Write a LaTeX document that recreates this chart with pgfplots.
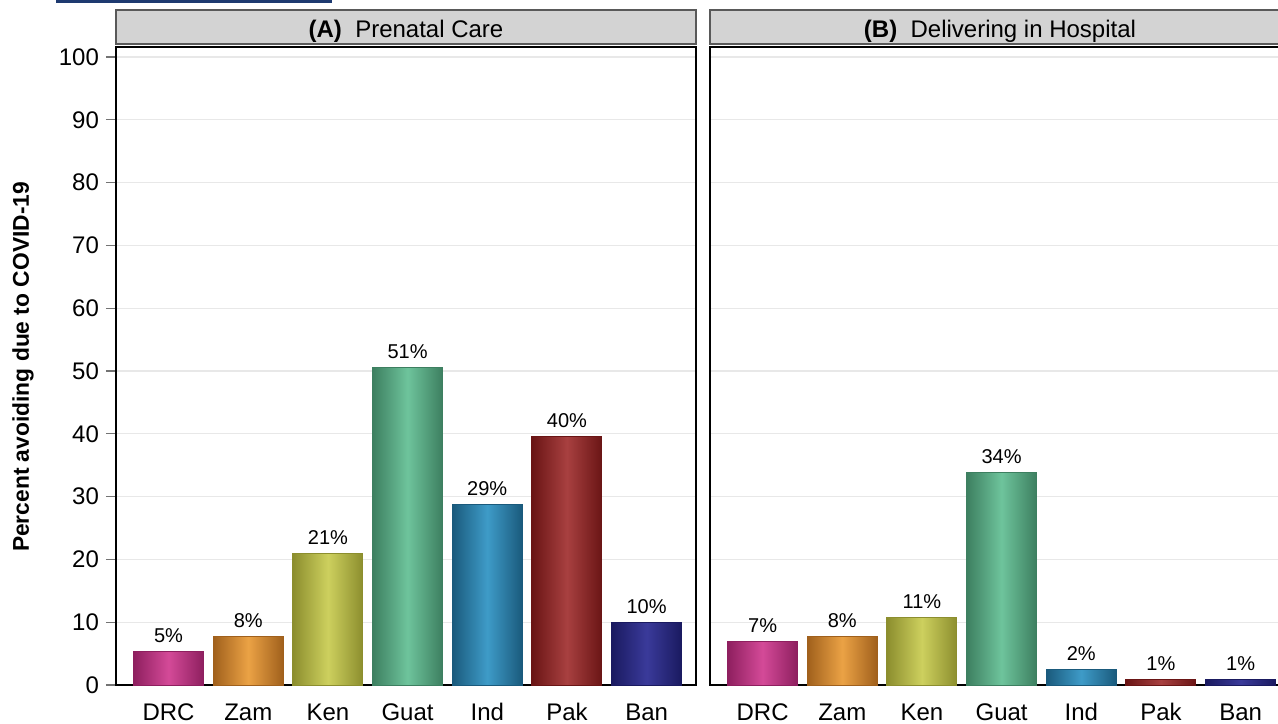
\documentclass[border=0pt]{standalone}
\usepackage{fontspec}
\setmainfont{Liberation Sans}
\usepackage{pgfplots}
\pgfplotsset{compat=1.18}

\definecolor{drcL}{HTML}{D44A98}\definecolor{drcD}{HTML}{8E1F5F}
\definecolor{zamL}{HTML}{EBA245}\definecolor{zamD}{HTML}{A0601C}
\definecolor{kenL}{HTML}{CDD05E}\definecolor{kenD}{HTML}{8C8E2E}
\definecolor{guaL}{HTML}{6EC49C}\definecolor{guaD}{HTML}{3D7F60}
\definecolor{indL}{HTML}{3E9BC8}\definecolor{indD}{HTML}{1A5A7C}
\definecolor{pakL}{HTML}{A84040}\definecolor{pakD}{HTML}{6A1515}
\definecolor{banL}{HTML}{3A3A9A}\definecolor{banD}{HTML}{1A1A60}
\definecolor{strip}{HTML}{D3D3D3}
\definecolor{topbar}{HTML}{1E3A70}

\pgfplotsset{
  panel/.style={
    scale only axis, width=290pt, height=319pt, anchor=south west,
    xmin=-0.66, xmax=6.62, ymin=0, ymax=101.6,
    axis line style={black, line width=0.7pt},
    ytick={0,10,...,100}, ymajorgrids, ytick pos=left,
    grid style={color=black!9, line width=0.6pt},
    xtick={0,...,6}, xticklabels={DRC,Zam,Ken,Guat,Ind,Pak,Ban},
    x tick style={draw=none}, major tick length=5pt, tick align=outside,
    y tick style={black!55, line width=0.6pt},
    tick label style={font=\fontsize{12}{14}\selectfont},
    xticklabel style={yshift=-0.5pt, text height=8.6pt, text depth=2.5pt},
    /pgf/number format/assume math mode=true,
  },
  bar/.style 2 args={
    ybar, bar width=35pt, bar shift=0pt, draw=#2, line width=0.5pt,
    left color=#2, right color=#2, middle color=#1,
    nodes near coords, point meta=explicit symbolic,
    nodes near coords style={font=\fontsize{10}{12}\selectfont, text=black,
      anchor=base, inner sep=0pt, yshift=4.5pt},
  },
}

\begin{document}
\begin{tikzpicture}
\useasboundingbox (0,0) rectangle (639pt,361.5pt);
\clip (0,0) rectangle (639pt,361.5pt);

\fill[topbar] (28pt,360pt) rectangle (166pt,361.5pt);

% (A) Prenatal Care
\begin{axis}[panel, at={(58pt,19pt)}]
\addplot[bar={drcL}{drcD}] coordinates {(0,5.4) [5\%]};
\addplot[bar={zamL}{zamD}] coordinates {(1,7.8) [8\%]};
\addplot[bar={kenL}{kenD}] coordinates {(2,21.0) [21\%]};
\addplot[bar={guaL}{guaD}] coordinates {(3,50.6) [51\%]};
\addplot[bar={indL}{indD}] coordinates {(4,28.7) [29\%]};
\addplot[bar={pakL}{pakD}] coordinates {(5,39.6) [40\%]};
\addplot[bar={banL}{banD}] coordinates {(6,10.0) [10\%]};
\end{axis}

% (B) Delivering in Hospital
\begin{axis}[panel, at={(355pt,19pt)}, yticklabels={}, y tick style={draw=none}]
\addplot[bar={drcL}{drcD}] coordinates {(0,7.0) [7\%]};
\addplot[bar={zamL}{zamD}] coordinates {(1,7.8) [8\%]};
\addplot[bar={kenL}{kenD}] coordinates {(2,10.7) [11\%]};
\addplot[bar={guaL}{guaD}] coordinates {(3,33.8) [34\%]};
\addplot[bar={indL}{indD}] coordinates {(4,2.4) [2\%]};
\addplot[bar={pakL}{pakD}] coordinates {(5,0.8) [1\%]};
\addplot[bar={banL}{banD}] coordinates {(6,0.9) [1\%]};
\end{axis}

% strip headers
\foreach \x/\lab/\txt in {58/A/Prenatal Care, 355/B/Delivering in Hospital}{
  \draw[fill=strip, draw=black!65, line width=0.6pt]
    (\x pt,339.5pt) rectangle ++(290pt,17pt);
  \node[font=\fontsize{12}{14}\selectfont] at ([xshift=145pt]\x pt,345.7pt)
    {\textbf{(\lab)}\ \ \txt};
}

\node[rotate=90, font=\bfseries\fontsize{11.4}{13}\selectfont]
  at (11.5pt,178pt) {Percent avoiding due to COVID-19};
\end{tikzpicture}
\end{document}
